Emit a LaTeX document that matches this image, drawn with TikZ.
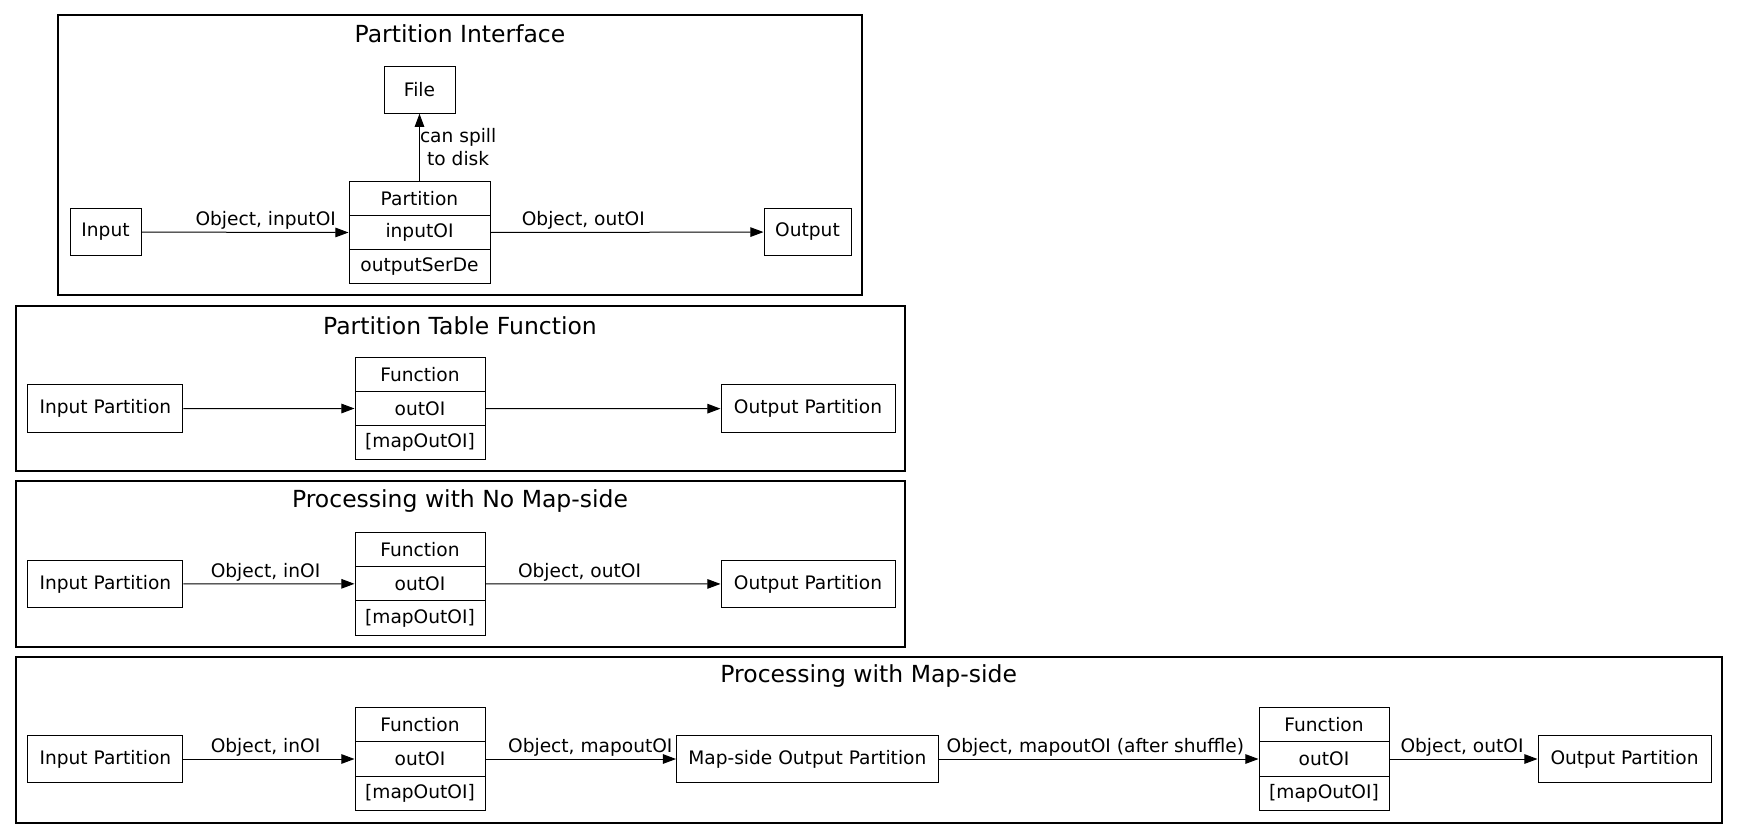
\documentclass[tikz,border=0pt]{standalone}
\usepackage{fontspec}
\setmainfont{DejaVu Sans}
\usetikzlibrary{arrows.meta}
\tikzset{
  every node/.style={font=\fontsize{9.3}{11.7}\selectfont},
  box/.style={draw, line width=0.5pt, rectangle, inner sep=0pt, minimum height=23.75pt},
  cell/.style={draw, line width=0.5pt, rectangle, inner sep=0pt, minimum height=17.17pt},
  cluster/.style={draw, line width=1pt},
  ctitle/.style={font=\fontsize{11.75}{14}\selectfont, inner sep=0pt},
  arr/.style={line width=0.5pt, -{Triangle[length=6.6pt,width=4.8pt]}},
  lab/.style={above, inner sep=1.2pt}
}
\begin{document}
\begin{tikzpicture}[x=0.5pt, y=-0.5pt]
\useasboundingbox (0,0) rectangle (1739,840);
% ---------- Cluster 1 ----------
\draw[cluster] (58,15.5) rectangle (862,295);
\node[ctitle] (t1) at (460,34) {Partition Interface};
\node[box, minimum width=35.5pt] (in1) at (105.5,232) {Input};
\node[box, minimum width=43.5pt] (out1) at (807.5,232) {Output};
\node[box, minimum width=35.5pt, minimum height=23.25pt] (file) at (419.5,90) {File};
\node[cell, minimum width=70.5pt] (p1a) at (419.5,198.2) {Partition};
\node[cell, minimum width=70.5pt] (p1b) at (419.5,232.5) {inputOI};
\node[cell, minimum width=70.5pt] (p1c) at (419.5,266.8) {outputSerDe};
\draw[arr] (in1) -- node[lab, pos=0.6] {Object, inputOI} (p1b.west);
\draw[arr] (p1b.east) -- node[lab, pos=0.34] {Object, outOI} (out1);
\draw[arr] (p1a.north) -- node[right, align=center, inner sep=0pt, pos=0.5] {can spill\\to disk} (file.south);
% ---------- Cluster 2 ----------
\draw[cluster] (15.5,306) rectangle (905,471);
\node[ctitle] (t2) at (460,326) {Partition Table Function};
\node[box, minimum width=77.5pt] (in2) at (105.4,408.7) {Input Partition};
\node[cell, minimum width=65pt] (f2a) at (420,374.2) {Function};
\node[cell, minimum width=65pt] (f2b) at (420,408.5) {outOI};
\node[cell, minimum width=65pt] (f2c) at (420,442.8) {[mapOutOI]};
\node[box, minimum width=87pt] (out2) at (808,408.7) {Output Partition};
\draw[arr] (in2) -- (f2b.west);
\draw[arr] (f2b.east) -- (out2);
% ---------- Cluster 3 ----------
\draw[cluster] (15.5,481) rectangle (905,647);
\node[ctitle] (t3) at (460,501) {Processing with No Map-side};
\node[box, minimum width=77.5pt] (in3) at (105.4,584) {Input Partition};
\node[cell, minimum width=65pt] (f3a) at (420,549.5) {Function};
\node[cell, minimum width=65pt] (f3b) at (420,583.8) {outOI};
\node[cell, minimum width=65pt] (f3c) at (420,618.1) {[mapOutOI]};
\node[box, minimum width=87pt] (out3) at (808,584) {Output Partition};
\draw[arr] (in3) -- node[lab, pos=0.48] {Object, inOI} (f3b.west);
\draw[arr] (f3b.east) -- node[lab, pos=0.40] {Object, outOI} (out3);
% ---------- Cluster 4 ----------
\draw[cluster] (15.5,657) rectangle (1722,823);
\node[ctitle] (t4) at (868.7,676) {Processing with Map-side};
\node[box, minimum width=77.5pt] (in4) at (105.4,759) {Input Partition};
\node[cell, minimum width=65pt] (f4a) at (420,724.7) {Function};
\node[cell, minimum width=65pt] (f4b) at (420,759) {outOI};
\node[cell, minimum width=65pt] (f4c) at (420,793.3) {[mapOutOI]};
\node[box, minimum width=130.75pt] (mop) at (807.3,759) {Map-side Output Partition};
\node[cell, minimum width=65pt] (g4a) at (1324,724.7) {Function};
\node[cell, minimum width=65pt] (g4b) at (1324,759) {outOI};
\node[cell, minimum width=65pt] (g4c) at (1324,793.3) {[mapOutOI]};
\node[box, minimum width=86.5pt] (out4) at (1624.5,759) {Output Partition};
\draw[arr] (in4) -- node[lab, pos=0.48] {Object, inOI} (f4b.west);
\draw[arr] (f4b.east) -- node[lab, pos=0.55] {Object, mapoutOI} (mop);
\draw[arr] (mop) -- node[lab, pos=0.49] {Object, mapoutOI (after shuffle)} (g4b.west);
\draw[arr] (g4b.east) -- node[lab, pos=0.49] {Object, outOI} (out4);
\end{tikzpicture}
\end{document}
